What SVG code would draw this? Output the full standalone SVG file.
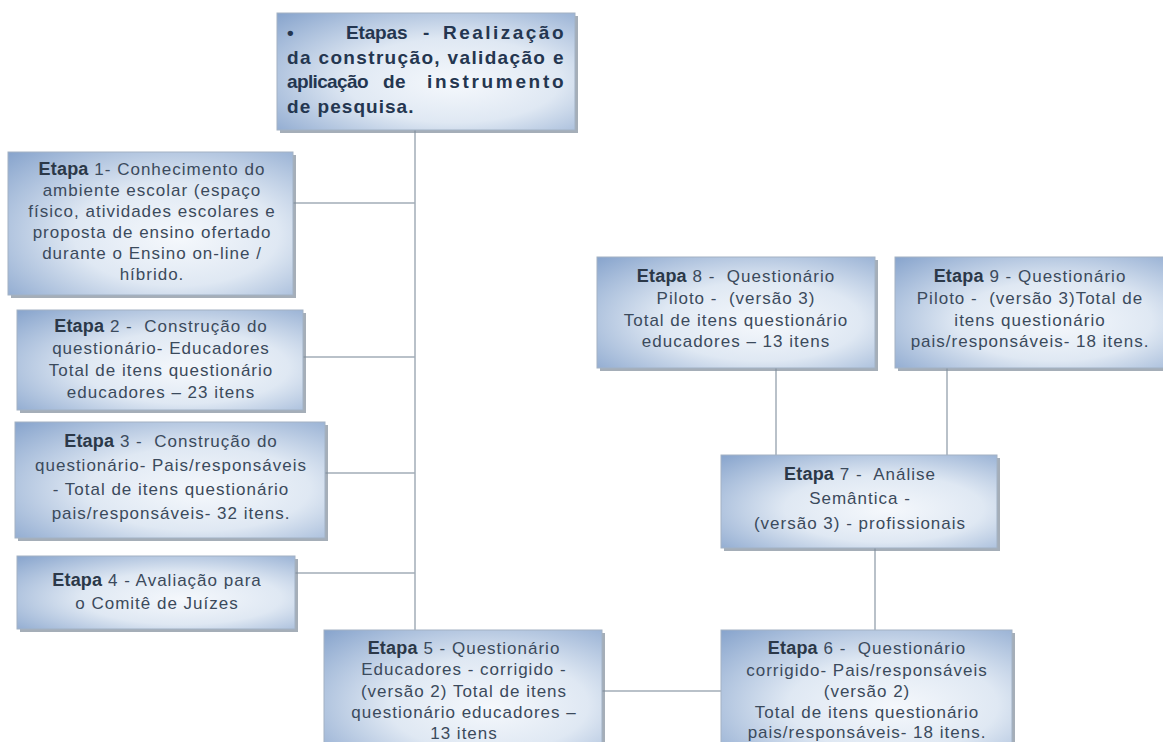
<svg xmlns="http://www.w3.org/2000/svg" width="1163" height="742" viewBox="0 0 1163 742">
<defs>
<radialGradient id="g" cx="0.58" cy="0.55" r="0.8" fx="0.6" fy="0.6">
<stop offset="0" stop-color="#f5f8fc"/>
<stop offset="0.45" stop-color="#dfe8f3"/>
<stop offset="1" stop-color="#86a3cc"/>
</radialGradient>
</defs>
<style>
.sh{fill:#7f8c9a;opacity:0.7}
.bx{fill:url(#g);stroke:#a3b2c4;stroke-width:1}
.t{font-family:"Liberation Sans",Arial,sans-serif;font-size:17px;fill:#3b4a5c;letter-spacing:1px;text-anchor:middle}
.b{font-weight:bold;font-size:18px;fill:#2b3848;letter-spacing:0.2px}
.h{font-family:"Liberation Sans",Arial,sans-serif;font-size:19px;font-weight:bold;fill:#243650;letter-spacing:0.5px}
.c{stroke:#a2acb7;stroke-width:1.5;fill:none}
</style>
<rect width="1163" height="742" fill="#ffffff"/>
<g id="connectors">
<path class="c" d="M415 130V630"/>
<path class="c" d="M293 203H415"/>
<path class="c" d="M303 357H415"/>
<path class="c" d="M325 473H415"/>
<path class="c" d="M295 573H415"/>
<path class="c" d="M602 691H721"/>
<path class="c" d="M875 548V630"/>
<path class="c" d="M776 368V455"/>
<path class="c" d="M947 368V455"/>
</g>
<g id="top">
<rect class="sh" x="280" y="16" width="298" height="117"/>
<rect class="bx" x="277" y="13" width="298" height="117"/>
<text class="h"><tspan x="287" y="39">•</tspan><tspan x="346" y="39" textLength="62" lengthAdjust="spacing">Etapas</tspan><tspan x="423" y="39">-</tspan><tspan x="443" y="39" textLength="121" lengthAdjust="spacing">Realização</tspan><tspan x="287" y="64" textLength="277" lengthAdjust="spacing">da construção, validação e</tspan><tspan x="287" y="88" textLength="82" lengthAdjust="spacing">aplicação</tspan><tspan x="383" y="88">de</tspan><tspan x="427" y="88" textLength="137" lengthAdjust="spacing">instrumento</tspan><tspan x="287" y="113" textLength="127" lengthAdjust="spacing">de pesquisa.</tspan></text>
</g>
<g id="etapa1">
<rect class="sh" x="11" y="155" width="285" height="143"/>
<rect class="bx" x="8" y="152" width="285" height="143"/>
<text class="t"><tspan x="152" y="175"><tspan class="b">Etapa</tspan> 1- Conhecimento do</tspan><tspan x="152" y="196">ambiente escolar (espaço</tspan><tspan x="152" y="217">físico, atividades escolares e</tspan><tspan x="152" y="238">proposta de ensino ofertado</tspan><tspan x="152" y="259">durante o Ensino on-line /</tspan><tspan x="152" y="280">híbrido.</tspan></text>
</g>
<g id="etapa2">
<rect class="sh" x="20" y="313" width="286" height="100"/>
<rect class="bx" x="17" y="310" width="286" height="100"/>
<text class="t"><tspan x="161" y="332"><tspan class="b">Etapa</tspan> 2 -&#160; Construção do</tspan><tspan x="161" y="354">questionário- Educadores</tspan><tspan x="161" y="376">Total de itens questionário</tspan><tspan x="161" y="398">educadores – 23 itens</tspan></text>
</g>
<g id="etapa3">
<rect class="sh" x="18" y="425" width="310" height="116"/>
<rect class="bx" x="15" y="422" width="310" height="116"/>
<text class="t"><tspan x="171" y="447"><tspan class="b">Etapa</tspan> 3 -&#160; Construção do</tspan><tspan x="171" y="471">questionário- Pais/responsáveis</tspan><tspan x="171" y="495">- Total de itens questionário</tspan><tspan x="171" y="519">pais/responsáveis- 32 itens.</tspan></text>
</g>
<g id="etapa4">
<rect class="sh" x="20" y="559" width="278" height="73"/>
<rect class="bx" x="17" y="556" width="278" height="73"/>
<text class="t"><tspan x="157" y="586"><tspan class="b">Etapa</tspan> 4 - Avaliação para</tspan><tspan x="157" y="609">o Comitê de Juízes</tspan></text>
</g>
<g id="etapa5">
<rect class="sh" x="327" y="633" width="278" height="130"/>
<rect class="bx" x="324" y="630" width="278" height="130"/>
<text class="t"><tspan x="464" y="654"><tspan class="b">Etapa</tspan> 5 - Questionário</tspan><tspan x="464" y="675">Educadores - corrigido -</tspan><tspan x="464" y="697">(versão 2) Total de itens</tspan><tspan x="464" y="718">questionário educadores –</tspan><tspan x="464" y="739">13 itens</tspan></text>
</g>
<g id="etapa6">
<rect class="sh" x="724" y="633" width="291" height="130"/>
<rect class="bx" x="721" y="630" width="291" height="130"/>
<text class="t"><tspan x="867" y="654"><tspan class="b">Etapa</tspan> 6 -&#160; Questionário</tspan><tspan x="867" y="676">corrigido- Pais/responsáveis</tspan><tspan x="867" y="697">(versão 2)</tspan><tspan x="867" y="718">Total de itens questionário</tspan><tspan x="867" y="738">pais/responsáveis- 18 itens.</tspan></text>
</g>
<g id="etapa7">
<rect class="sh" x="724" y="458" width="276" height="93"/>
<rect class="bx" x="721" y="455" width="276" height="93"/>
<text class="t"><tspan x="860" y="480"><tspan class="b">Etapa</tspan> 7 -&#160; Análise</tspan><tspan x="860" y="504">Semântica -</tspan><tspan x="860" y="529">(versão 3) - profissionais</tspan></text>
</g>
<g id="etapa8">
<rect class="sh" x="600" y="260" width="278" height="111"/>
<rect class="bx" x="597" y="257" width="278" height="111"/>
<text class="t"><tspan x="736" y="282"><tspan class="b">Etapa</tspan> 8 -&#160; Questionário</tspan><tspan x="736" y="304">Piloto -&#160; (versão 3)</tspan><tspan x="736" y="326">Total de itens questionário</tspan><tspan x="736" y="347">educadores – 13 itens</tspan></text>
</g>
<g id="etapa9">
<rect class="sh" x="898" y="260" width="270" height="111"/>
<rect class="bx" x="895" y="257" width="270" height="111"/>
<text class="t"><tspan x="1030" y="282"><tspan class="b">Etapa</tspan> 9 - Questionário</tspan><tspan x="1030" y="304">Piloto -&#160; (versão 3)Total de</tspan><tspan x="1030" y="326">itens questionário</tspan><tspan x="1030" y="347">pais/responsáveis- 18 itens.</tspan></text>
</g>
</svg>
